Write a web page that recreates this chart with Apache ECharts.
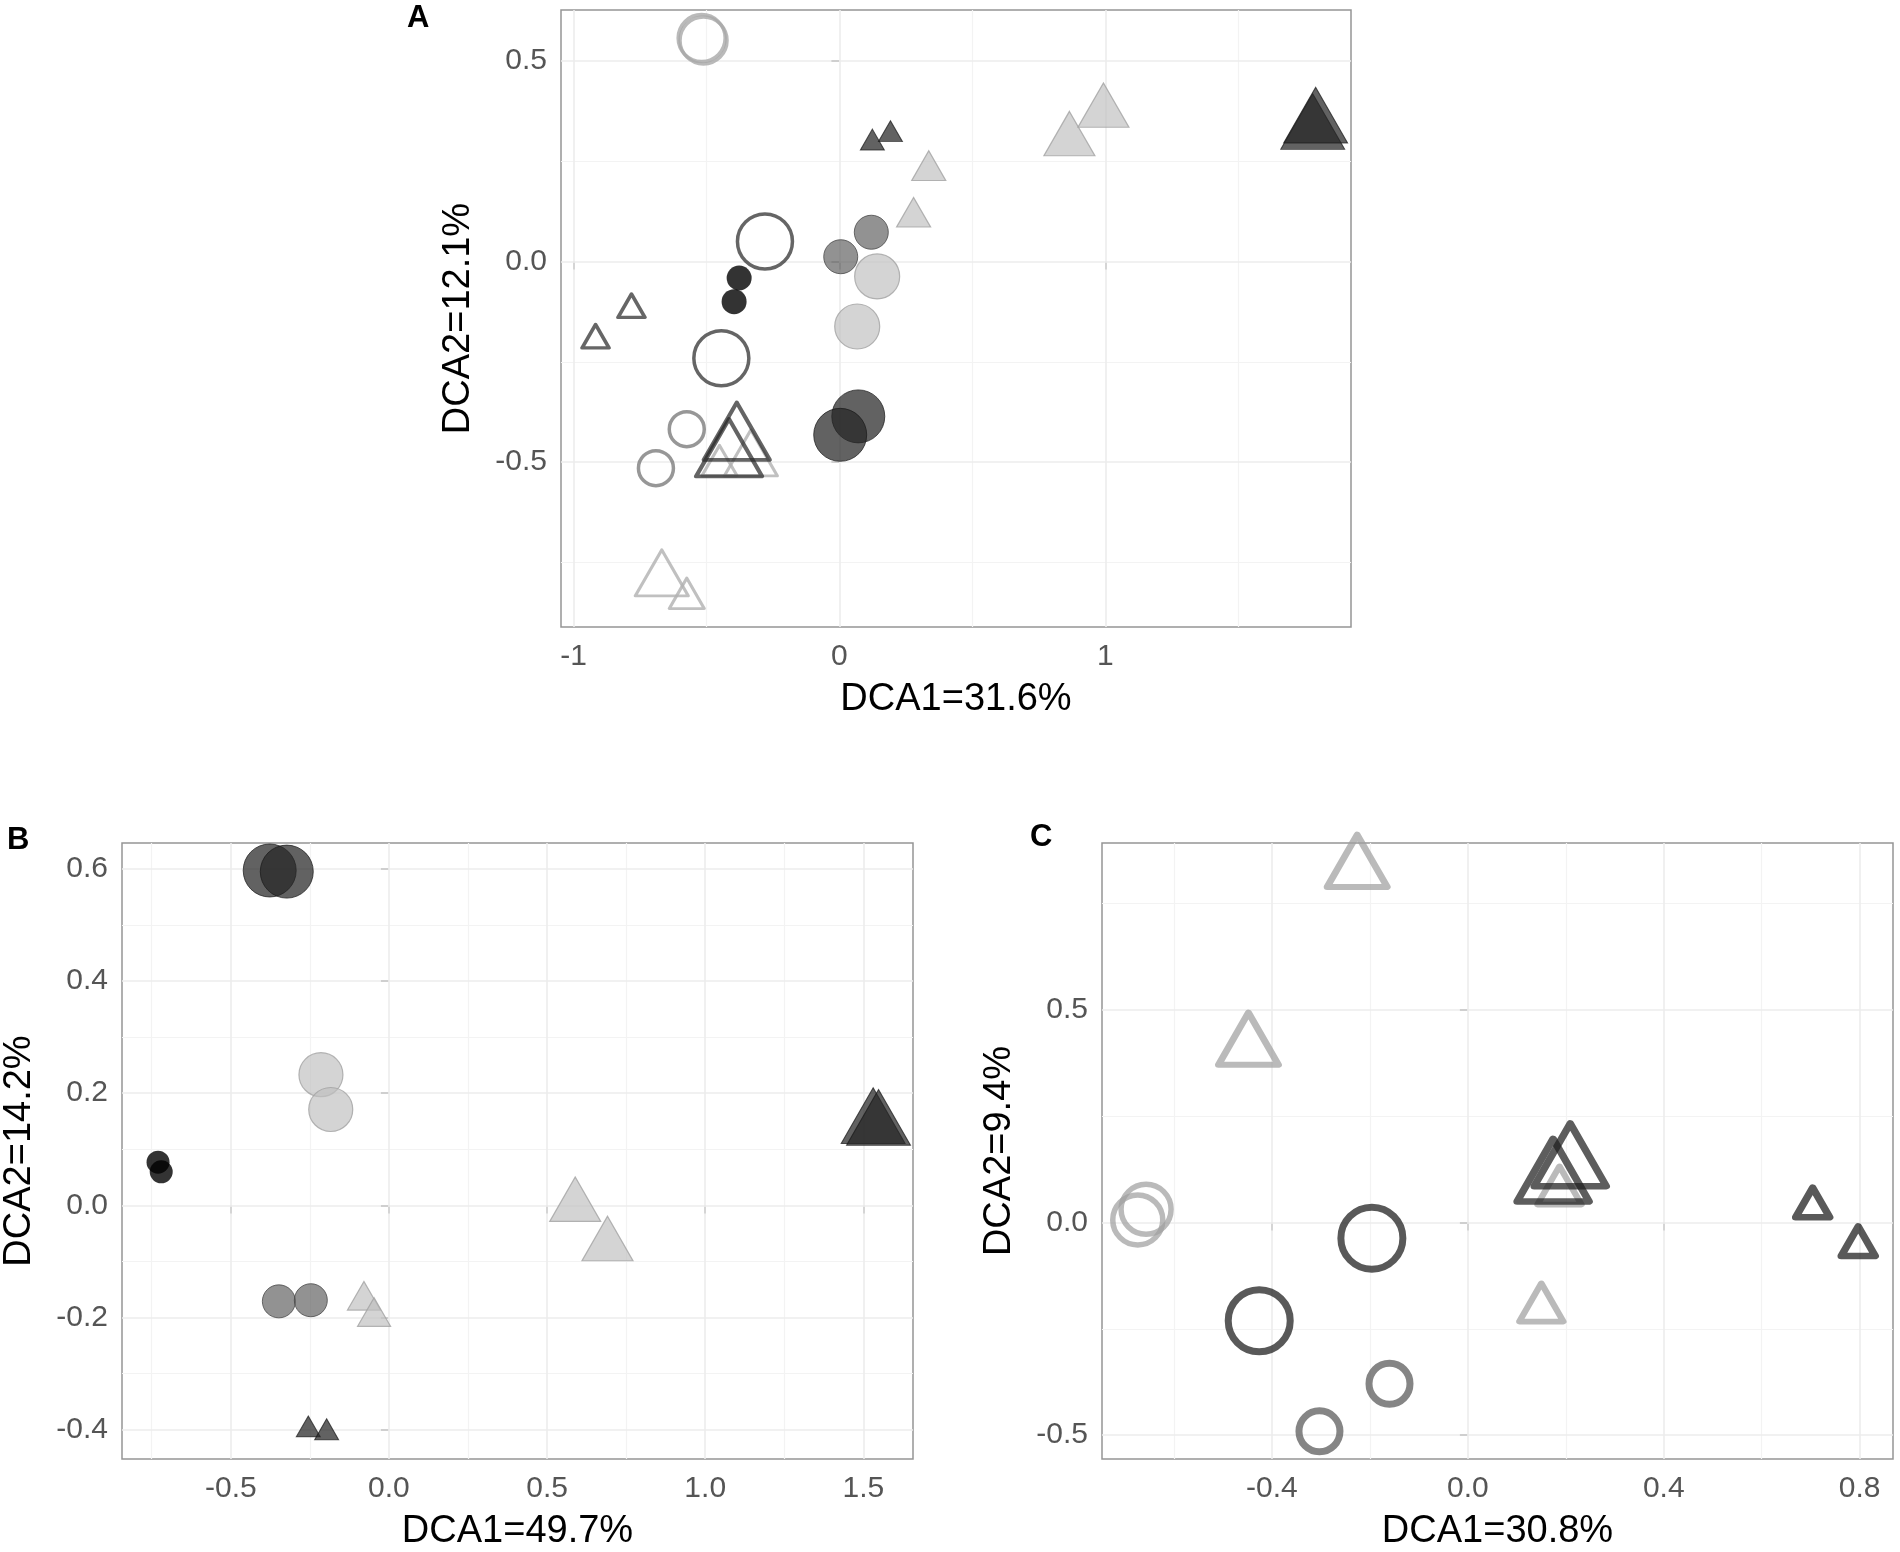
<!DOCTYPE html>
<html>
<head>
<meta charset="utf-8">
<style>
  html, body { margin: 0; background: #fff; }
  #container { width: 1900px; height: 1552px; }
</style>
</head>
<body>
<div id="container"></div>
<script src="https://cdn.jsdelivr.net/npm/echarts@6/dist/echarts.min.js"></script>
<script>
// ---- panel A data (DCA1 / DCA2) ----
var aLightOpenCircle = [[-0.518, 0.557], [-0.511, 0.551]];
var aDarkOpenCircle  = [[-0.280, 0.050], [-0.444, -0.241]];
var aGreyOpenCircle  = [[-0.574, -0.418], [-0.690, -0.515]];
var aDarkOpenTriS    = [[-0.782, -0.110], [-0.917, -0.186]];
var aDarkOpenTriL    = [[-0.386, -0.423], [-0.415, -0.464]];
var aLightOpenTriS   = [[-0.451, -0.496], [-0.574, -0.827]];
var aLightOpenTriL   = [[-0.333, -0.477], [-0.668, -0.776]];
var aDarkCircle      = [[0.071, -0.386], [0.003, -0.432]];
var aGreyCircle      = [[0.120, 0.073], [0.005, 0.012]];
var aLightCircle     = [[0.142, -0.037], [0.067, -0.162]];
var aBlackCircle     = [[-0.377, -0.041], [-0.396, -0.100]];
var aDarkTriS        = [[0.124, 0.304], [0.192, 0.325]];
var aLightTriS       = [[0.336, 0.239], [0.279, 0.123]];
var aLightTriL       = [[0.865, 0.319], [0.993, 0.390]];
var aDarkTriL        = [[1.780, 0.349], [1.791, 0.365]];

// ---- panel B data ----
var bDarkCircle  = [[-0.377, 0.597], [-0.323, 0.595]];
var bLightCircle = [[-0.215, 0.233], [-0.184, 0.171]];
var bBlackCircle = [[-0.730, 0.077], [-0.720, 0.060]];
var bGreyCircle  = [[-0.348, -0.171], [-0.247, -0.169]];
var bLightTriS   = [[-0.079, -0.161], [-0.047, -0.190]];
var bDarkTriS    = [[-0.255, -0.394], [-0.197, -0.399]];
var bLightTriL   = [[0.589, 0.011], [0.691, -0.059]];
var bDarkTriL    = [[1.531, 0.160], [1.548, 0.157]];

// ---- panel C data ----
var cLightOpenCircle = [[-0.674, 0.006], [-0.657, 0.031]];
var cDarkOpenCircle  = [[-0.196, -0.037], [-0.426, -0.231]];
var cGreyOpenCircle  = [[-0.160, -0.379], [-0.303, -0.491]];
var cLightOpenTriS   = [[0.150, -0.188], [0.187, 0.087]];
var cLightOpenTriL   = [[-0.226, 0.850], [-0.448, 0.432]];
var cDarkOpenTriS    = [[0.704, 0.047], [0.797, -0.044]];
var cDarkOpenTriL    = [[0.209, 0.159], [0.174, 0.123]];

// ---- axes: tick labels and grid lines ----
var aXTicks = [-1, 0, 1],            aXMinor = [-0.5, 0.5, 1.5];
var aYTicks = [-0.5, 0, 0.5],        aYMinor = [-0.75, -0.25, 0.25];
var bXTicks = [-0.5, 0, 0.5, 1, 1.5], bXMinor = [-0.75, -0.25, 0.25, 0.75, 1.25];
var bYTicks = [-0.4, -0.2, 0, 0.2, 0.4, 0.6], bYMinor = [-0.3, -0.1, 0.1, 0.3, 0.5];
var cXTicks = [-0.4, 0, 0.4, 0.8],   cXMinor = [-0.6, -0.2, 0.2, 0.6];
var cYTicks = [-0.5, 0, 0.5],        cYMinor = [-0.25, 0.25, 0.75];

var xTitles = ['DCA1=31.6%', 'DCA1=49.7%', 'DCA1=30.8%'];
var yTitles = ['DCA2=12.1%', 'DCA2=14.2%', 'DCA2=9.4%'];
var panelLetters = ['A', 'B', 'C'];

var FONT = "'Liberation Sans', Arial, Helvetica, sans-serif";

var dom = document.getElementById('container');
var myChart = echarts.init(dom);

function axis(gi, min, max, ticks, digits, name, gap, isX) {
    return {
        type: 'value', gridIndex: gi, min: min, max: max,
        name: name, nameLocation: 'middle', nameGap: gap,
        nameTextStyle: { fontSize: 38, color: '#000', fontFamily: FONT },
        axisLine: { show: false },
        axisTick: { show: true, customValues: ticks, length: 8,
                    lineStyle: { color: '#4d4d4d', width: 1.5 } },
        axisLabel: { show: true, customValues: ticks, fontSize: 30, color: '#555',
                     fontFamily: FONT, margin: isX ? 15 : 14,
                     formatter: function (v) { return Number(v).toFixed(digits); } },
        splitLine: { show: false }
    };
}

// grid lines drawn as mark lines at the tick values
function gridLines(gi, xMajor, xMinor, yMajor, yMinor) {
    var d = [];
    xMinor.forEach(function (v) { d.push({ xAxis: v, lineStyle: { color: '#f3f3f3', width: 1.2, type: 'solid' } }); });
    yMinor.forEach(function (v) { d.push({ yAxis: v, lineStyle: { color: '#f3f3f3', width: 1.2, type: 'solid' } }); });
    xMajor.forEach(function (v) { d.push({ xAxis: v, lineStyle: { color: '#ededed', width: 1.6, type: 'solid' } }); });
    yMajor.forEach(function (v) { d.push({ yAxis: v, lineStyle: { color: '#ededed', width: 1.6, type: 'solid' } }); });
    return {
        type: 'scatter', xAxisIndex: gi, yAxisIndex: gi, data: [], silent: true, z: 1,
        markLine: { silent: true, z: 1, animation: false, symbol: ['none', 'none'],
                    label: { show: false }, lineStyle: { type: 'solid' }, data: d }
    };
}

function filled(color, border, bw) {
    return { color: color, borderColor: border, borderWidth: bw };
}
function open(color, w) {
    return { color: 'rgba(0,0,0,0)', borderColor: color, borderWidth: w, borderJoin: 'round' };
}

var DARK  = filled('rgba(38,38,38,0.9)', 'rgba(25,25,25,0.9)', 1);
var GREY  = filled('rgba(88,88,88,0.82)', '#4a4a4a', 1);
var LIGHT = filled('rgba(192,192,192,0.85)', '#a3a3a3', 1.2);
var BLACK = filled('#000', '#000', 0);

function pts(gi, data, shape, size, style) {
    return {
        type: 'scatter', xAxisIndex: gi, yAxisIndex: gi, data: data, silent: true, z: 3,
        symbol: shape,
        symbolSize: shape === 'triangle' ? [size, size * 0.87] : size,
        itemStyle: style
    };
}

var option = {
    animation: false,
    backgroundColor: '#fff',
    title: [
        { text: panelLetters[0], left: 407, top: 3, padding: 0 },
        { text: panelLetters[1], left: 7, top: 825, padding: 0 },
        { text: panelLetters[2], left: 1030, top: 822, padding: 0 }
    ].map(function (t) {
        t.textStyle = { fontSize: 31, fontWeight: 'bold', color: '#000', fontFamily: FONT };
        return t;
    }),
    grid: [
        { left: 561, top: 10, width: 790, height: 617 },
        { left: 122, top: 843, width: 791, height: 616 },
        { left: 1102, top: 843, width: 791, height: 616 }
    ].map(function (g) {
        g.show = true; g.borderColor = '#959595'; g.borderWidth = 1.5; g.backgroundColor = '#fff';
        return g;
    }),
    xAxis: [
        axis(0, -1.047, 1.924, aXTicks, 0, xTitles[0], 54, true),
        axis(1, -0.844, 1.657, bXTicks, 1, xTitles[1], 54, true),
        axis(2, -0.747, 0.868, cXTicks, 1, xTitles[2], 54, true)
    ],
    yAxis: [
        axis(0, -0.911, 0.627, aYTicks, 1, yTitles[0], 83, false),
        axis(1, -0.452, 0.646, bYTicks, 1, yTitles[1], 83, false),
        axis(2, -0.556, 0.892, cYTicks, 1, yTitles[2], 83, false)
    ],
    series: [
        gridLines(0, aXTicks, aXMinor, aYTicks, aYMinor),
        gridLines(1, bXTicks, bXMinor, bYTicks, bYMinor),
        gridLines(2, cXTicks, cXMinor, cYTicks, cYMinor),

        // A
        pts(0, aLightOpenCircle, 'circle', 47, open('#a9a9a9', 3.5)),
        pts(0, aDarkOpenCircle, 'circle', 55, open('#3f3f3f', 3.5)),
        pts(0, aGreyOpenCircle, 'circle', 35, open('#7d7d7d', 3.5)),
        pts(0, aDarkOpenTriS, 'triangle', 27, open('#404040', 3.5)),
        pts(0, aLightOpenTriS, 'triangle', 35, open('#b0b0b0', 3)),
        pts(0, aLightOpenTriL, 'triangle', 53, open('#b0b0b0', 3)),
        pts(0, aDarkOpenTriL, 'triangle', 66, open('rgba(40,40,40,0.9)', 4)),
        pts(0, aGreyCircle, 'circle', 34, GREY),
        pts(0, aLightCircle, 'circle', 45, LIGHT),
        pts(0, aBlackCircle, 'circle', 25, BLACK),
        pts(0, aDarkTriS, 'triangle', 24, DARK),
        pts(0, aLightTriS, 'triangle', 34, LIGHT),
        pts(0, aLightTriL, 'triangle', 51, LIGHT),
        pts(0, aDarkTriL, 'triangle', 64, DARK),
        pts(0, aDarkCircle, 'circle', 53, DARK),

        // B
        pts(1, bDarkCircle, 'circle', 53, DARK),
        pts(1, bLightCircle, 'circle', 44, LIGHT),
        pts(1, bBlackCircle, 'circle', 23, BLACK),
        pts(1, bGreyCircle, 'circle', 33, GREY),
        pts(1, bLightTriS, 'triangle', 33, LIGHT),
        pts(1, bDarkTriS, 'triangle', 24, DARK),
        pts(1, bLightTriL, 'triangle', 51, LIGHT),
        pts(1, bDarkTriL, 'triangle', 64, DARK),

        // C
        pts(2, cLightOpenCircle, 'circle', 50, open('rgba(160,160,160,0.9)', 5.5)),
        pts(2, cDarkOpenCircle, 'circle', 62, open('rgba(30,30,30,0.92)', 7)),
        pts(2, cGreyOpenCircle, 'circle', 41, open('rgba(90,90,90,0.92)', 7)),
        pts(2, cLightOpenTriS, 'triangle', 44, open('rgba(160,160,160,0.9)', 6)),
        pts(2, cLightOpenTriL, 'triangle', 60, open('rgba(160,160,160,0.9)', 6.5)),
        pts(2, cDarkOpenTriS, 'triangle', 34, open('rgba(30,30,30,0.92)', 7)),
        pts(2, cDarkOpenTriL, 'triangle', 72, open('rgba(30,30,30,0.9)', 7))
    ]
};

myChart.setOption(option);
</script>
</body>
</html>
